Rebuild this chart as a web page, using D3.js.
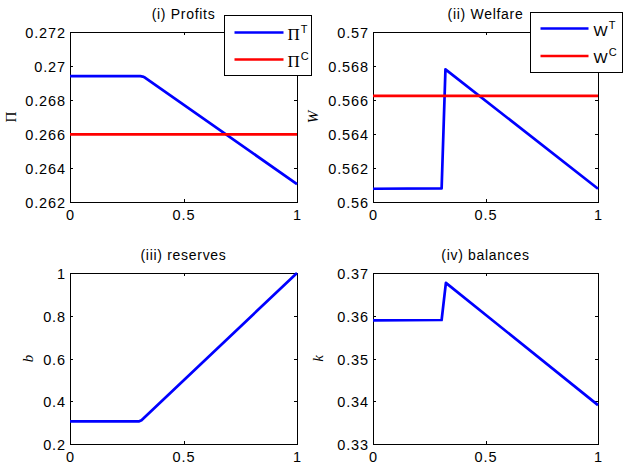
<!DOCTYPE html>
<html>
<head>
<meta charset="utf-8">
<script src="https://cdn.jsdelivr.net/npm/d3@7"></script>
<style>
  html, body { margin: 0; padding: 0; background: #fff; }
  svg { display: block; }
  .tick text { font-family: "Liberation Sans", Arial, sans-serif; font-size: 14.5px; letter-spacing: 0.9px; fill: #000; }
</style>
</head>
<body>
<svg id="chart" width="623" height="467"></svg>
<script>
// ---------- data ----------
const xTicks = [0, 0.5, 1];

// (i) Profits
const profitsX = [0, 0.31, 0.32, 0.33, 1];
const profitsT = [0.26940, 0.26940, 0.26938, 0.26932, 0.26305];
const profitsCX = [0, 1];
const profitsC = [0.26598, 0.26598];
const profitsTicks = [0.262, 0.264, 0.266, 0.268, 0.27, 0.272];

// (ii) Welfare
const welfareX = [0, 0.305, 0.322, 1];
const welfareT = [0.56078, 0.56080, 0.56780, 0.56078];
const welfareCX = [0, 1];
const welfareC = [0.56624, 0.56624];
const welfareTicks = [0.56, 0.562, 0.564, 0.566, 0.568, 0.57];

// (iii) reserves
const reservesX = [0, 0.305, 0.315, 1];
const reservesB = [0.306, 0.306, 0.311, 1];
const reservesTicks = [0.2, 0.4, 0.6, 0.8, 1];

// (iv) balances
const balancesX = [0, 0.305, 0.324, 1];
const balancesK = [0.3589, 0.3590, 0.3677, 0.3391];
const balancesTicks = [0.33, 0.34, 0.35, 0.36, 0.37];

// ---------- drawing ----------
const svg = d3.select("#chart");
svg.append("rect").attr("width", 623).attr("height", 467).attr("fill", "#fff");

const fmt = d3.format("~g");

function panel(cfg) {
  const x = d3.scaleLinear().domain([0, 1]).range([cfg.l, cfg.r]);
  const y = d3.scaleLinear().domain(cfg.yDomain).range([cfg.b, cfg.t]);
  const g = svg.append("g");

  const ax = (axis, tx, ty) => {
    const a = g.append("g").attr("transform", `translate(${tx},${ty})`).call(axis);
    a.select(".domain").remove();
    a.selectAll(".tick line").attr("stroke", "#000").attr("shape-rendering", "crispEdges");
    return a;
  };
  ax(d3.axisBottom(x).tickValues(xTicks).tickFormat(fmt).tickSize(-3).tickPadding(8), 0, cfg.b)
    .selectAll(".tick text").attr("dy", "0.71em");
  ax(d3.axisTop(x).tickValues(xTicks).tickFormat("").tickSize(-3), 0, cfg.t);
  ax(d3.axisLeft(y).tickValues(cfg.yTicks).tickFormat(fmt).tickSize(-3).tickPadding(4), cfg.l, 0)
    .selectAll(".tick text").attr("dy", "0.38em");
  ax(d3.axisRight(y).tickValues(cfg.yTicks).tickFormat("").tickSize(-3), cfg.r, 0);

  g.append("rect")
    .attr("x", cfg.l).attr("y", cfg.t)
    .attr("width", cfg.r - cfg.l).attr("height", cfg.b - cfg.t)
    .attr("fill", "none").attr("stroke", "#000").attr("stroke-width", 1)
    .attr("shape-rendering", "crispEdges");

  const line = d3.line().x(d => x(d[0])).y(d => y(d[1]));
  const clipId = "clip" + cfg.id;
  g.append("clipPath").attr("id", clipId).append("rect")
    .attr("x", cfg.l - 2).attr("y", cfg.t - 2).attr("width", cfg.r - cfg.l + 4).attr("height", cfg.b - cfg.t + 4);
  cfg.series.forEach(s => {
    g.append("path")
      .attr("clip-path", `url(#${clipId})`)
      .datum(d3.zip(s.x, s.y))
      .attr("d", line)
      .attr("fill", "none")
      .attr("stroke", s.color)
      .attr("stroke-width", 2.7)
      .attr("stroke-linejoin", "round");
  });

  g.append("text")
    .attr("x", (cfg.l + cfg.r) / 2).attr("y", cfg.t - 13)
    .attr("text-anchor", "middle")
    .attr("font-family", "Liberation Sans, Arial, sans-serif")
    .attr("font-size", 14).attr("letter-spacing", "0.7px")
    .text(cfg.title);

  g.append("text")
    .attr("transform", `translate(${cfg.ylx},${(cfg.t + cfg.b) / 2}) rotate(-90)`)
    .attr("text-anchor", "middle")
    .attr("font-family", "Liberation Serif, Times New Roman, serif")
    .attr("font-style", cfg.ylItalic ? "italic" : "normal")
    .attr("font-size", 15)
    .text(cfg.ylabel);

  if (cfg.legend) {
    const L = cfg.legend;
    g.append("rect")
      .attr("x", L.x).attr("y", L.y).attr("width", L.w).attr("height", L.h)
      .attr("fill", "#fff").attr("stroke", "#000").attr("stroke-width", 1)
      .attr("shape-rendering", "crispEdges");
    L.items.forEach((it, i) => {
      const ly = L.y + L.first + i * L.step;
      g.append("line")
        .attr("x1", L.x + L.lx1).attr("x2", L.x + L.lx2)
        .attr("y1", ly).attr("y2", ly)
        .attr("stroke", it.color).attr("stroke-width", 2.7);
      const t = g.append("text")
        .attr("x", L.x + L.tx).attr("y", ly + 7)
        .attr("font-family", L.serif ? "Liberation Serif, Times New Roman, serif" : "Liberation Sans, Arial, sans-serif")
        .attr("font-size", L.serif ? 17 : 15);
      t.append("tspan").text(it.base);
      t.append("tspan")
        .attr("dx", 1).attr("dy", -7)
        .attr("font-family", "Liberation Sans, Arial, sans-serif")
        .attr("font-size", 11)
        .text(it.sup);
    });
  }
}

panel({
  id: 1, l: 70, r: 297, t: 32, b: 202,
  yDomain: [0.262, 0.272], yTicks: profitsTicks,
  title: "(i) Profits", ylabel: "\u03A0", ylItalic: false, ylx: 16,
  series: [
    { x: profitsX, y: profitsT, color: "#0000ff" },
    { x: profitsCX, y: profitsC, color: "#ff0000" }
  ],
  legend: { x: 224.5, y: 15.5, w: 87, h: 60, first: 17, step: 27, lx1: 10, lx2: 59, tx: 63, serif: true,
    items: [ { base: "\u03A0", sup: "T", color: "#0000ff" }, { base: "\u03A0", sup: "C", color: "#ff0000" } ] }
});

panel({
  id: 2, l: 373, r: 598, t: 32, b: 202,
  yDomain: [0.56, 0.57], yTicks: welfareTicks,
  title: "(ii) Welfare", ylabel: "W", ylItalic: true, ylx: 318,
  series: [
    { x: welfareX, y: welfareT, color: "#0000ff" },
    { x: welfareCX, y: welfareC, color: "#ff0000" }
  ],
  legend: { x: 530.5, y: 12.5, w: 92, h: 60, first: 16, step: 27.5, lx1: 10, lx2: 58, tx: 63, serif: false,
    items: [ { base: "W", sup: "T", color: "#0000ff" }, { base: "W", sup: "C", color: "#ff0000" } ] }
});

panel({
  id: 3, l: 70, r: 297, t: 273, b: 444,
  yDomain: [0.2, 1], yTicks: reservesTicks,
  title: "(iii) reserves", ylabel: "b", ylItalic: true, ylx: 33,
  series: [ { x: reservesX, y: reservesB, color: "#0000ff" } ]
});

panel({
  id: 4, l: 373, r: 598, t: 273, b: 444,
  yDomain: [0.33, 0.37], yTicks: balancesTicks,
  title: "(iv) balances", ylabel: "k", ylItalic: true, ylx: 323,
  series: [ { x: balancesX, y: balancesK, color: "#0000ff" } ]
});
</script>
</body>
</html>
